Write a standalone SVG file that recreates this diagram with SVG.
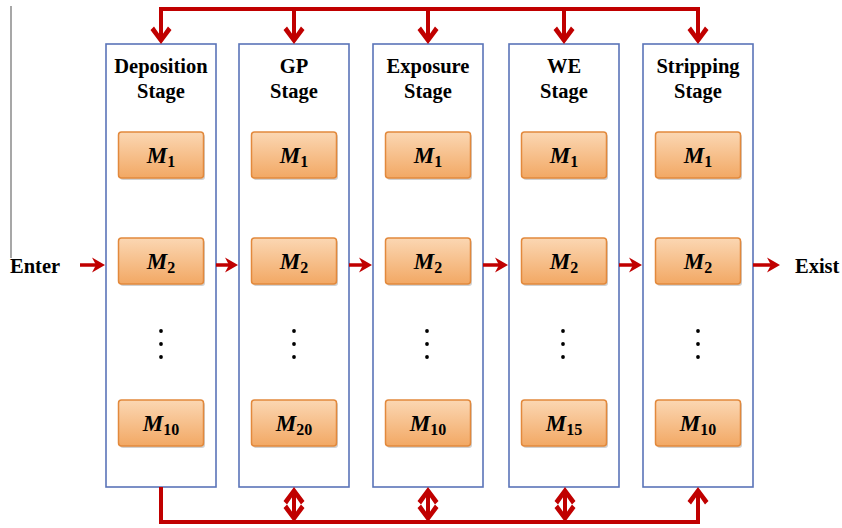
<svg xmlns="http://www.w3.org/2000/svg" xmlns:xlink="http://www.w3.org/1999/xlink" width="842" height="528" viewBox="0 0 842 528">
<style>
.stage{fill:#fff;stroke:#5a74b8;stroke-width:1.6}
.st{font-family:"Liberation Serif","Times New Roman",serif;font-weight:bold;font-size:20.5px;fill:#000;text-anchor:middle}
.mod{fill:url(#og);stroke:#e2893c;stroke-width:1.5}
.shd{fill:#000;opacity:0.18}
.ml{font-family:"Liberation Serif","Times New Roman",serif;font-weight:bold;font-size:23px;fill:#000;text-anchor:middle}
.mi{font-style:italic}
.sub{font-size:16px;font-style:normal}
.bus{fill:none;stroke:#c00000;stroke-width:4}
.ha{fill:none;stroke:#c00000;stroke-width:3.5}
.ah{fill:#c00000}
.dot{fill:#000}
.lbl{font-family:"Liberation Serif","Times New Roman",serif;font-weight:bold;font-size:20.5px;fill:#000}
</style>
<defs>
<linearGradient id="og" x1="0" y1="0" x2="0" y2="1">
<stop offset="0" stop-color="#fbd7b3"/>
<stop offset="1" stop-color="#f2a864"/>
</linearGradient>
<polygon id="chev" points="0,0 10.5,-14 7,-17.5 0,-7.5 -7,-17.5 -10.5,-14"/>
<polygon id="harr" points="0,0 -13,-7.5 -9,0 -13,7.5"/>
<g id="mbox">
<rect class="shd" x="-41" y="-21" width="85" height="46" rx="3"/>
<rect class="mod" x="-42.5" y="-23" width="85" height="46" rx="3"/>
</g>
</defs>

<line x1="11" y1="6" x2="11" y2="258" stroke="#8a8a8a" stroke-width="1.5"/>

<g id="deposition">
<rect class="stage" x="106" y="44" width="110" height="443"/>
<text class="st" x="161" y="73">Deposition</text>
<text class="st" x="161" y="98">Stage</text>
<use xlink:href="#mbox" x="161" y="155"/>
<text class="ml" x="161" y="163"><tspan class="mi">M</tspan><tspan class="sub" dy="4">1</tspan></text>
<use xlink:href="#mbox" x="161" y="261"/>
<text class="ml" x="161" y="269"><tspan class="mi">M</tspan><tspan class="sub" dy="4">2</tspan></text>
<circle class="dot" cx="161" cy="331" r="1.9"/><circle class="dot" cx="161" cy="344" r="1.9"/><circle class="dot" cx="161" cy="357" r="1.9"/>
<use xlink:href="#mbox" x="161" y="423"/>
<text class="ml" x="161" y="431"><tspan class="mi">M</tspan><tspan class="sub" dy="4">10</tspan></text>
</g>

<g id="gp">
<rect class="stage" x="239" y="44" width="110" height="443"/>
<text class="st" x="294" y="73">GP</text>
<text class="st" x="294" y="98">Stage</text>
<use xlink:href="#mbox" x="294" y="155"/>
<text class="ml" x="294" y="163"><tspan class="mi">M</tspan><tspan class="sub" dy="4">1</tspan></text>
<use xlink:href="#mbox" x="294" y="261"/>
<text class="ml" x="294" y="269"><tspan class="mi">M</tspan><tspan class="sub" dy="4">2</tspan></text>
<circle class="dot" cx="294" cy="331" r="1.9"/><circle class="dot" cx="294" cy="344" r="1.9"/><circle class="dot" cx="294" cy="357" r="1.9"/>
<use xlink:href="#mbox" x="294" y="423"/>
<text class="ml" x="294" y="431"><tspan class="mi">M</tspan><tspan class="sub" dy="4">20</tspan></text>
</g>

<g id="exposure">
<rect class="stage" x="373" y="44" width="110" height="443"/>
<text class="st" x="428" y="73">Exposure</text>
<text class="st" x="428" y="98">Stage</text>
<use xlink:href="#mbox" x="428" y="155"/>
<text class="ml" x="428" y="163"><tspan class="mi">M</tspan><tspan class="sub" dy="4">1</tspan></text>
<use xlink:href="#mbox" x="428" y="261"/>
<text class="ml" x="428" y="269"><tspan class="mi">M</tspan><tspan class="sub" dy="4">2</tspan></text>
<circle class="dot" cx="427" cy="331" r="1.9"/><circle class="dot" cx="427" cy="344" r="1.9"/><circle class="dot" cx="427" cy="357" r="1.9"/>
<use xlink:href="#mbox" x="428" y="423"/>
<text class="ml" x="428" y="431"><tspan class="mi">M</tspan><tspan class="sub" dy="4">10</tspan></text>
</g>

<g id="we">
<rect class="stage" x="509" y="44" width="110" height="443"/>
<text class="st" x="564" y="73">WE</text>
<text class="st" x="564" y="98">Stage</text>
<use xlink:href="#mbox" x="564" y="155"/>
<text class="ml" x="564" y="163"><tspan class="mi">M</tspan><tspan class="sub" dy="4">1</tspan></text>
<use xlink:href="#mbox" x="564" y="261"/>
<text class="ml" x="564" y="269"><tspan class="mi">M</tspan><tspan class="sub" dy="4">2</tspan></text>
<circle class="dot" cx="563" cy="331" r="1.9"/><circle class="dot" cx="563" cy="344" r="1.9"/><circle class="dot" cx="563" cy="357" r="1.9"/>
<use xlink:href="#mbox" x="564" y="423"/>
<text class="ml" x="564" y="431"><tspan class="mi">M</tspan><tspan class="sub" dy="4">15</tspan></text>
</g>

<g id="stripping">
<rect class="stage" x="643" y="44" width="110" height="443"/>
<text class="st" x="698" y="73">Stripping</text>
<text class="st" x="698" y="98">Stage</text>
<use xlink:href="#mbox" x="698" y="155"/>
<text class="ml" x="698" y="163"><tspan class="mi">M</tspan><tspan class="sub" dy="4">1</tspan></text>
<use xlink:href="#mbox" x="698" y="261"/>
<text class="ml" x="698" y="269"><tspan class="mi">M</tspan><tspan class="sub" dy="4">2</tspan></text>
<circle class="dot" cx="698" cy="331" r="1.9"/><circle class="dot" cx="698" cy="344" r="1.9"/><circle class="dot" cx="698" cy="357" r="1.9"/>
<use xlink:href="#mbox" x="698" y="423"/>
<text class="ml" x="698" y="431"><tspan class="mi">M</tspan><tspan class="sub" dy="4">10</tspan></text>
</g>

<g id="enter"><text class="lbl" x="10" y="273">Enter</text></g>
<g id="exist"><text class="lbl" x="795" y="273">Exist</text></g>

<g id="connectors">
<path class="bus" d="M161,40 V9 H698 V40 M294,9 V40 M428,9 V40 M564,9 V40"/>
<use class="ah" xlink:href="#chev" transform="translate(161,44)"/>
<use class="ah" xlink:href="#chev" transform="translate(294,44)"/>
<use class="ah" xlink:href="#chev" transform="translate(428,44)"/>
<use class="ah" xlink:href="#chev" transform="translate(564,44)"/>
<use class="ah" xlink:href="#chev" transform="translate(698,44)"/>
<path class="bus" d="M161,487 V522 H698 V491 M294,491 V518 M428,491 V518 M565,491 V518"/>
<use class="ah" xlink:href="#chev" transform="translate(698,487) rotate(180)"/>
<use class="ah" xlink:href="#chev" transform="translate(294,487) rotate(180)"/>
<use class="ah" xlink:href="#chev" transform="translate(294,522)"/>
<use class="ah" xlink:href="#chev" transform="translate(428,487) rotate(180)"/>
<use class="ah" xlink:href="#chev" transform="translate(428,522)"/>
<use class="ah" xlink:href="#chev" transform="translate(565,487) rotate(180)"/>
<use class="ah" xlink:href="#chev" transform="translate(565,522)"/>
<path class="ha" d="M80,265 H96 M216,265 H229 M349,265 H363 M483,265 H499 M619,265 H633 M753,265 H771"/>
<use class="ah" xlink:href="#harr" transform="translate(105,265)"/>
<use class="ah" xlink:href="#harr" transform="translate(238,265)"/>
<use class="ah" xlink:href="#harr" transform="translate(372,265)"/>
<use class="ah" xlink:href="#harr" transform="translate(508,265)"/>
<use class="ah" xlink:href="#harr" transform="translate(642,265)"/>
<use class="ah" xlink:href="#harr" transform="translate(780,265)"/>
</g>
</svg>
